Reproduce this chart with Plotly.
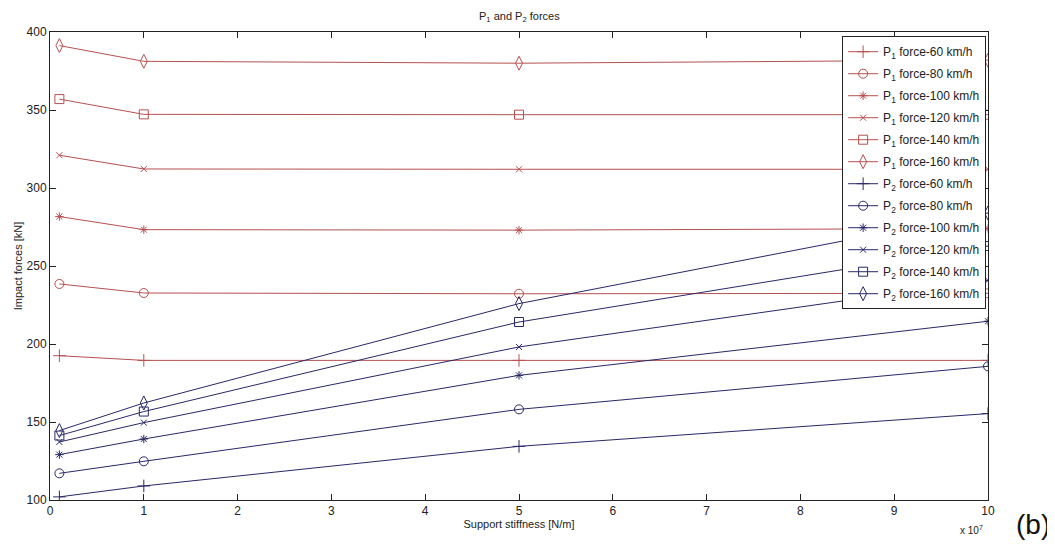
import plotly.graph_objects as go

stiffness = [1e6, 1e7, 5e7, 1e8]  # N/m
speeds = ["60", "80", "100", "120", "140", "160"]

p1_60 = [192.5, 189.5, 189.5, 189.5]
p1_80 = [238.5, 232.7, 232.2, 232.5]
p1_100 = [281.7, 273.3, 273.0, 274.0]
p1_120 = [321.0, 312.2, 312.0, 312.0]
p1_140 = [357.0, 347.2, 347.0, 347.0]
p1_160 = [391.3, 381.2, 380.0, 382.0]

p2_60 = [102.0, 109.0, 134.4, 155.4]
p2_80 = [117.1, 124.8, 158.1, 185.7]
p2_100 = [129.1, 139.1, 179.9, 214.6]
p2_120 = [137.2, 149.6, 198.1, 240.8]
p2_140 = [141.3, 156.7, 214.1, 262.8]
p2_160 = [144.5, 162.2, 225.9, 284.0]

p1_series = [p1_60, p1_80, p1_100, p1_120, p1_140, p1_160]
p2_series = [p2_60, p2_80, p2_100, p2_120, p2_140, p2_160]
symbols = ["cross-thin-open", "circle-open", "asterisk-open", "x-thin-open", "square-open", "diamond-tall-open"]
sizes = [9, 9, 7, 6, 9, 10]

x_tickvals = [0, 1e7, 2e7, 3e7, 4e7, 5e7, 6e7, 7e7, 8e7, 9e7, 1e8]
x_ticktext = ["0", "1", "2", "3", "4", "5", "6", "7", "8", "9", "10"]
y_tickvals = [100, 150, 200, 250, 300, 350, 400]

c1 = "#b65050"
c2 = "#282868"

fig = go.Figure()
for idx, (label, vals) in enumerate(zip(speeds, p1_series)):
    fig.add_trace(go.Scatter(
        x=stiffness, y=vals, mode="lines+markers",
        name=f"P<sub>1</sub> force-{label} km/h", legendgroup=f"p1_{label}",
        line=dict(color=c1, width=1),
        marker=dict(symbol=symbols[idx], size=sizes[idx], color=c1, line=dict(color=c1, width=1)),
    ))
for idx, (label, vals) in enumerate(zip(speeds, p2_series)):
    fig.add_trace(go.Scatter(
        x=stiffness, y=vals, mode="lines+markers",
        name=f"P<sub>2</sub> force-{label} km/h", legendgroup=f"p2_{label}",
        line=dict(color=c2, width=1),
        marker=dict(symbol=symbols[idx], size=sizes[idx], color=c2, line=dict(color=c2, width=1)),
    ))

fig.update_layout(
    width=1047, height=548,
    margin=dict(l=42, r=67, t=24, b=56, autoexpand=False),
    paper_bgcolor="white", plot_bgcolor="white",
    font=dict(family="Liberation Sans, Arial, sans-serif", size=11, color="#222"),
    legend=dict(x=0.998, y=0.991, xanchor="right", yanchor="top",
                bgcolor="white", bordercolor="#222", borderwidth=1,
                font=dict(size=12, color="#222"), tracegroupgap=3,
                traceorder="grouped"),
    showlegend=True,
)
fig.update_xaxes(range=[0, 1e8], tickvals=x_tickvals, ticktext=x_ticktext, automargin=False,
                 ticks="inside", ticklen=6, tickcolor="#222", mirror="ticks",
                 showline=True, linecolor="#222", linewidth=1, showgrid=False, zeroline=False,
                 tickfont=dict(size=12),
                 title=dict(text="Support stiffness [N/m]", font=dict(size=11), standoff=0))
fig.update_yaxes(range=[100, 400], tickvals=y_tickvals, automargin=False,
                 ticks="inside", ticklen=6, tickcolor="#222", mirror="ticks",
                 showline=True, linecolor="#222", linewidth=1, showgrid=False, zeroline=False,
                 tickfont=dict(size=12),
                 title=dict(text="Impact forces [kN]", font=dict(size=11), standoff=1))

fig.add_annotation(text="P<sub>1</sub> and P<sub>2</sub> forces", xref="paper", yref="paper",
                   x=0.5, y=1.032, xanchor="center", yanchor="middle", showarrow=False,
                   font=dict(size=11, color="#222"))
fig.add_annotation(text="x 10<sup>7</sup>", xref="paper", yref="paper", x=0.997, y=-0.064,
                   xanchor="right", yanchor="middle", showarrow=False, font=dict(size=10, color="#222"))
fig.add_annotation(text="(b)", xref="paper", yref="paper", x=1.068, y=-0.053,
                   xanchor="right", yanchor="middle", showarrow=False,
                   font=dict(size=28, color="#111", family="Liberation Sans Narrow, Arial Narrow, sans-serif"))

fig.write_html("out.html")
